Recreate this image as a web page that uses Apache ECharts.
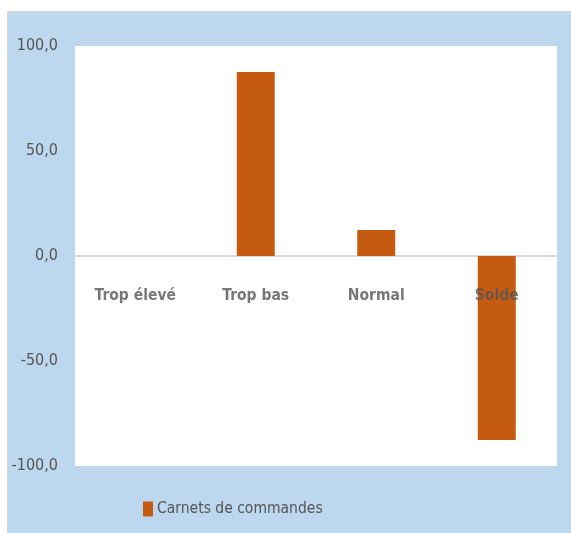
<!DOCTYPE html>
<html>
<head>
<meta charset="utf-8">
<script src="https://cdn.jsdelivr.net/npm/echarts@6/dist/echarts.min.js"></script>
<style>
  html, body { margin: 0; padding: 0; background: #ffffff; }
  #frame { position: absolute; left: 7px; top: 11px; width: 563px; height: 521px; background: #BDD7EE; border-top: 1px solid #d6d6d6; border-left: 1px solid #d6d6d6; }
  #chart { position: absolute; left: 0; top: 0; width: 571px; height: 533px; }
</style>
</head>
<body>
<div id="frame"></div>
<div id="chart"></div>
<script>
const categories = ["Trop élevé", "Trop bas", "Normal", "Solde"];
const seriesName = "Carnets de commandes";
const values = [0, 87.6, 12.4, -87.6];
const labelBase = [0, 0, 0, 0];
const yTicks = { min: -100, max: 100, interval: 50 };

const chart = echarts.init(document.getElementById('chart'), null, { renderer: 'canvas' });
const font = '"DejaVu Sans Condensed", "Liberation Sans", sans-serif';
chart.setOption({
  backgroundColor: 'transparent',
  animation: false,
  grid: { left: 75, right: 14, top: 46, bottom: 67, show: true, backgroundColor: '#ffffff', borderWidth: 0 },
  legend: {
    data: [seriesName],
    left: 138, top: 496,
    icon: 'rect', itemWidth: 10, itemHeight: 15, itemGap: 10,
    textStyle: { color: '#555555', fontSize: 15.5, fontFamily: font, padding: [0, 0, 0, -1] }
  },
  xAxis: {
    type: 'category',
    data: categories,
    axisLine: { onZero: true, lineStyle: { color: '#D9D9D9', width: 2 } },
    axisTick: { show: false },
    axisLabel: { show: false }
  },
  yAxis: {
    type: 'value',
    min: yTicks.min, max: yTicks.max, interval: yTicks.interval,
    splitLine: { show: false },
    axisLine: { show: false },
    axisTick: { show: false },
    axisLabel: {
      color: '#555555', fontSize: 16, fontFamily: font, margin: 17,
      formatter: v => v.toFixed(1).replace('.', ',')
    }
  },
  series: [{
    name: seriesName,
    type: 'bar',
    data: values,
    barWidth: 38,
    z: 2,
    itemStyle: { color: '#C55A11' }
  }, {
    name: 'labels',
    type: 'scatter',
    data: labelBase,
    symbolSize: 1,
    itemStyle: { color: 'rgba(0,0,0,0)' },
    silent: true,
    z: 5,
    label: {
      show: true,
      position: 'bottom',
      distance: 31,
      formatter: p => categories[p.dataIndex],
      color: '#555555', fontSize: 15.5, fontWeight: 'bold', fontFamily: font
    }
  }]
});
</script>
</body>
</html>
